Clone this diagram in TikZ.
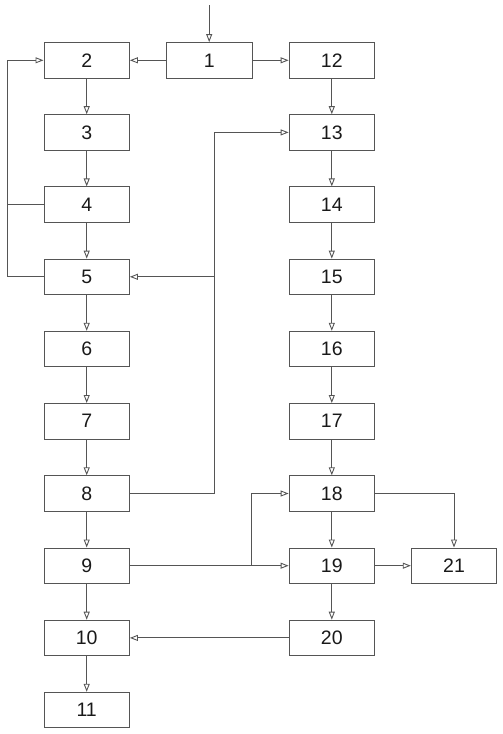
\documentclass[tikz,border=0pt]{standalone}
\usepackage{fontspec}
\setmainfont{Liberation Sans}
\usetikzlibrary{arrows.meta}
\definecolor{ln}{HTML}{555555}
\tikzset{
  blk/.style={draw=ln, line width=0.9pt, minimum width=85.5pt, minimum height=35.5pt, inner sep=0pt, font=\fontsize{19.5}{20}\selectfont, text=black!90},
  conn/.style={draw=ln, line width=0.9pt, -{Triangle[open, length=8pt, width=6pt]}},
  plain/.style={draw=ln, line width=0.9pt}
}
\begin{document}
\begin{tikzpicture}[x=1pt, y=-1pt]
\useasboundingbox (0,0) rectangle (503,734);
% left column
\node[blk] (n2) at (86.7,60.3) {2};
\node[blk] (n3) at (86.7,132.4) {3};
\node[blk] (n4) at (86.7,204.6) {4};
\node[blk] (n5) at (86.7,276.8) {5};
\node[blk] (n6) at (86.7,349) {6};
\node[blk] (n7) at (86.7,421.2) {7};
\node[blk] (n8) at (86.7,493.5) {8};
\node[blk] (n9) at (86.7,565.7) {9};
\node[blk] (n10) at (86.7,637.9) {10};
\node[blk] (n11) at (86.7,710) {11};
% middle
\node[blk] (n1) at (209.2,60.3) {1};
% right column
\node[blk] (n12) at (331.8,60.3) {12};
\node[blk] (n13) at (331.8,132.4) {13};
\node[blk] (n14) at (331.8,204.6) {14};
\node[blk] (n15) at (331.8,276.8) {15};
\node[blk] (n16) at (331.8,349) {16};
\node[blk] (n17) at (331.8,421.2) {17};
\node[blk] (n18) at (331.8,493.5) {18};
\node[blk] (n19) at (331.8,565.7) {19};
\node[blk] (n20) at (331.8,637.9) {20};
\node[blk] (n21) at (454,565.7) {21};
% coordinates
\coordinate (top) at (209.2,5);
\coordinate (lx) at (7,0);
\coordinate (mx) at (214,0);
\coordinate (bx) at (251.7,0);
% connectors
\draw[conn] (top) -- (n1);
\draw[conn] (n1) -- (n2);
\draw[conn] (n1) -- (n12);
\draw[conn] (n2) -- (n3);
\draw[conn] (n3) -- (n4);
\draw[conn] (n4) -- (n5);
\draw[conn] (n5) -- (n6);
\draw[conn] (n6) -- (n7);
\draw[conn] (n7) -- (n8);
\draw[conn] (n8) -- (n9);
\draw[conn] (n9) -- (n10);
\draw[conn] (n10) -- (n11);
\draw[conn] (n12) -- (n13);
\draw[conn] (n13) -- (n14);
\draw[conn] (n14) -- (n15);
\draw[conn] (n15) -- (n16);
\draw[conn] (n16) -- (n17);
\draw[conn] (n17) -- (n18);
\draw[conn] (n18) -- (n19);
\draw[conn] (n19) -- (n20);
% feedback loop 5 -> 2, with 4 joining
\draw[conn] (n5.west) -- (lx |- n5.west) -- (lx |- n2.west) -- (n2.west);
\draw[plain] (n4.west) -- (lx |- n4.west);
% 8 -> 13 and 5
\draw[conn] (n8.east) -- (mx |- n8.east) -- (mx |- n13.west) -- (n13.west);
\draw[conn] (mx |- n5.east) -- (n5.east);
% 9 -> 19 and 18
\draw[conn] (n9.east) -- (n19.west);
\draw[conn] (bx |- n9.east) -- (bx |- n18.west) -- (n18.west);
% 18 -> 21, 19 -> 21
\draw[conn] (n18.east) -| (n21.north);
\draw[conn] (n19) -- (n21);
% 20 -> 10
\draw[conn] (n20) -- (n10);
\end{tikzpicture}
\end{document}
